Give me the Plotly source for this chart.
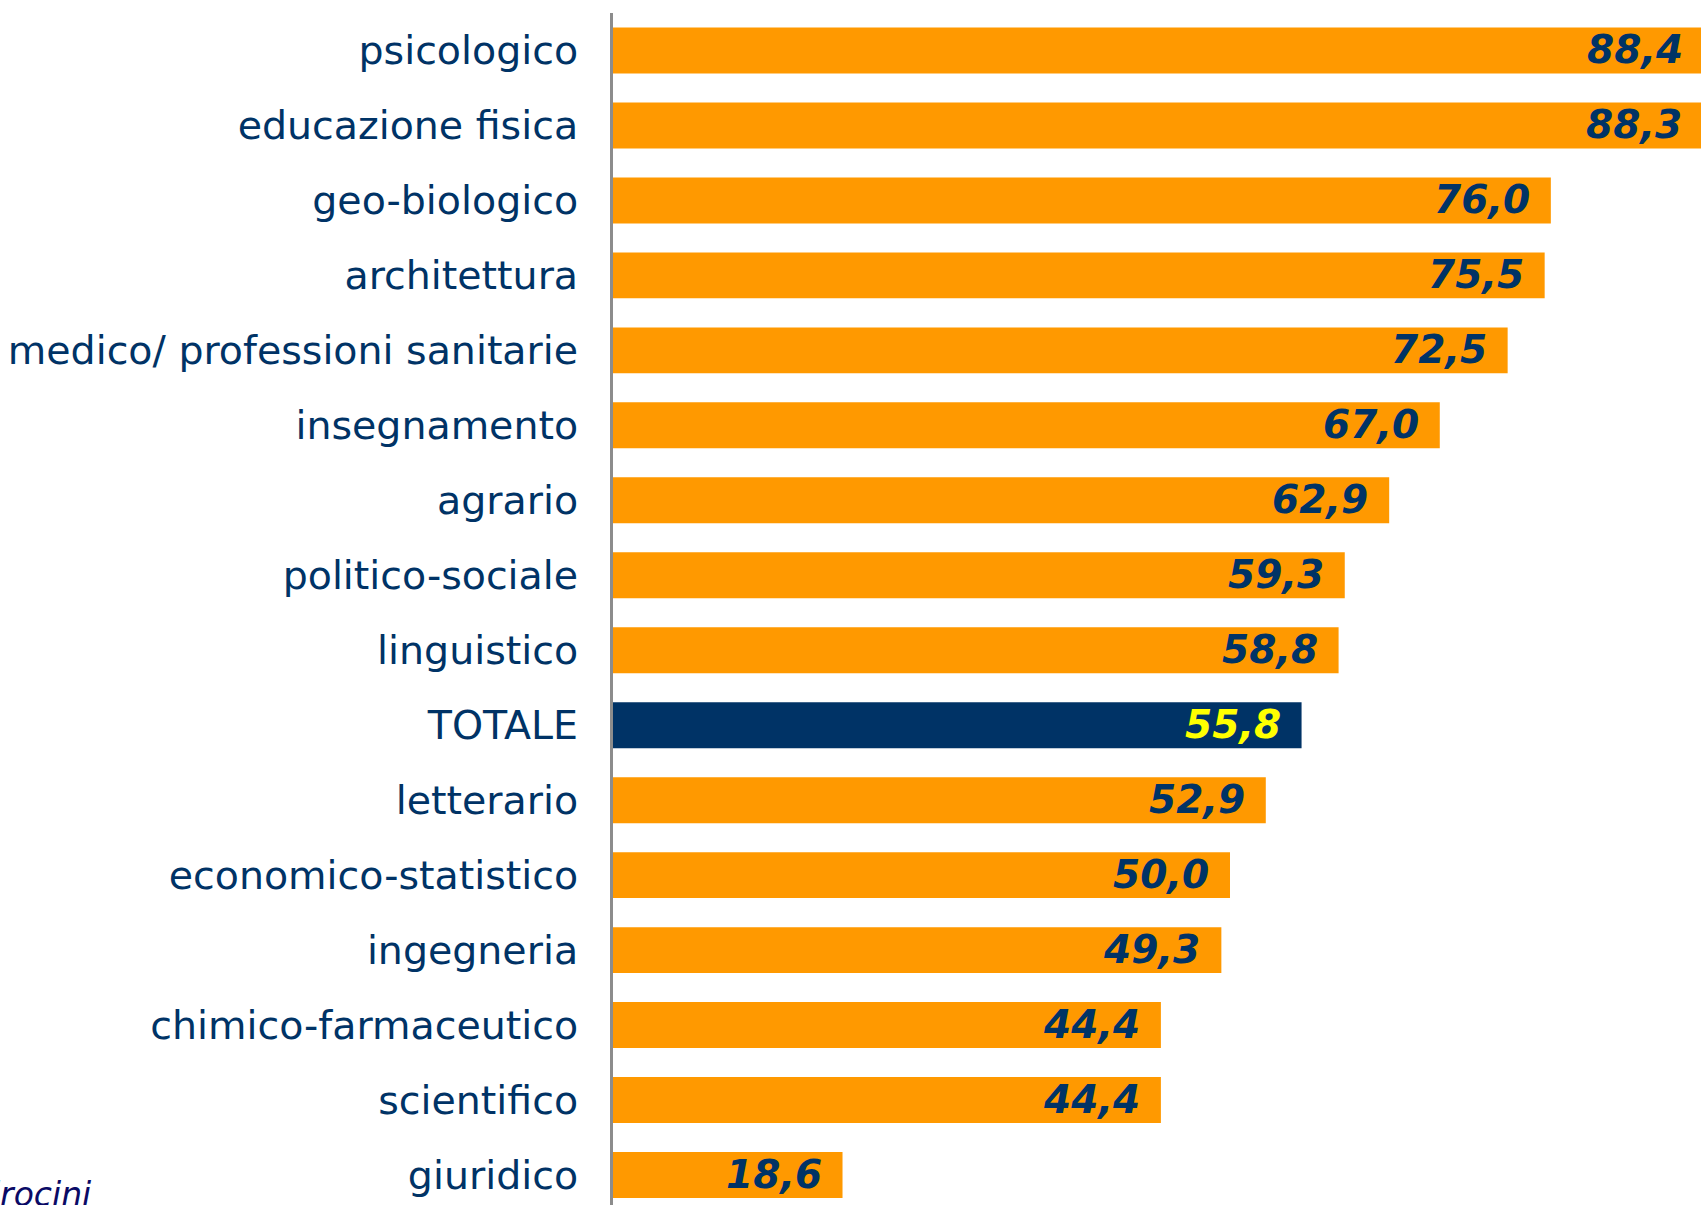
import plotly.graph_objects as go

categories = ["psicologico", "educazione fisica", "geo-biologico", "architettura",
              "medico/ professioni sanitarie", "insegnamento", "agrario",
              "politico-sociale", "linguistico", "TOTALE", "letterario",
              "economico-statistico", "ingegneria", "chimico-farmaceutico",
              "scientifico", "giuridico"]
values = [88.4, 88.3, 76.0, 75.5, 72.5, 67.0, 62.9, 59.3, 58.8, 55.8, 52.9,
          50.0, 49.3, 44.4, 44.4, 18.6]
value_labels = [f"{v:.1f}".replace(".", ",") for v in values]

ORANGE = "#FF9900"
NAVY = "#003366"
YELLOW = "#FFFF00"

LEFT = 613
XMAX = (1701 - LEFT) / 12.34

bar_colors = [NAVY if c == "TOTALE" else ORANGE for c in categories]
text_colors = [YELLOW if c == "TOTALE" else NAVY for c in categories]

fig = go.Figure(go.Bar(
    x=values, y=categories, orientation="h",
    marker=dict(color=bar_colors, line=dict(width=0)),
    hoverinfo="skip",
))

for c, v, lab, tc in zip(categories, values, value_labels, text_colors):
    fig.add_annotation(
        x=v / XMAX, y=c, xref="paper", yref="y", text=lab, showarrow=False,
        xanchor="right", yanchor="middle", xshift=-19, yshift=1,
        font=dict(family="DejaVu Sans", size=39, color=tc, weight="bold", style="italic"),
    )

fig.add_annotation(
    xref="paper", yref="paper", x=-(LEFT + 24) / (1701 - LEFT), y=0.009,
    xanchor="left", yanchor="middle", text="tirocini", showarrow=False,
    font=dict(family="DejaVu Sans", size=33, color="#0a0a66", style="italic"),
)

fig.update_layout(
    width=1701, height=1205,
    margin=dict(l=LEFT, r=0, t=13, b=0, autoexpand=False),
    paper_bgcolor="white", plot_bgcolor="white",
    bargap=0.387, showlegend=False,
    xaxis=dict(range=[0, XMAX], visible=False, fixedrange=True),
    yaxis=dict(
        range=[15.4, -0.5], autorange=False, showline=True, linecolor="#8c8c8c",
        linewidth=3, showgrid=False, zeroline=False, ticks="",
        ticklabelstandoff=24,
        tickfont=dict(family="DejaVu Sans", size=39.5, color=NAVY),
        automargin=False, fixedrange=True,
    ),
)

fig.write_html("out.html", config={"displayModeBar": False},
               post_script="document.body.style.margin='0px';document.body.style.overflow='hidden';")
